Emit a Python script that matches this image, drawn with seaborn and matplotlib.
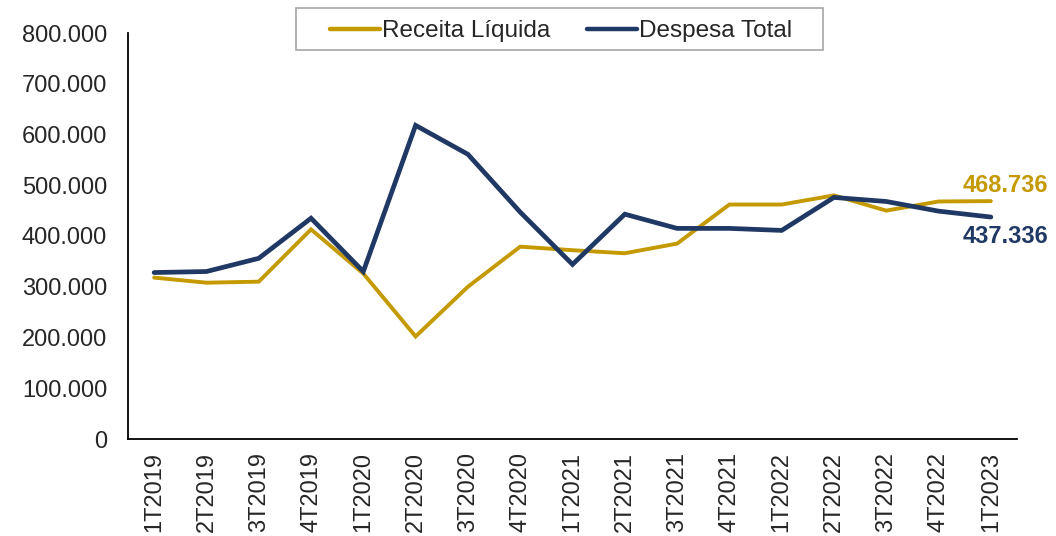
import pandas as pd
import matplotlib
matplotlib.use("Agg")
import matplotlib.pyplot as plt
import matplotlib.patches as mpatches
import seaborn as sns

# Dados trimestrais (valores em R$ mil)
trimestres = ["1T2019", "2T2019", "3T2019", "4T2019",
              "1T2020", "2T2020", "3T2020", "4T2020",
              "1T2021", "2T2021", "3T2021", "4T2021",
              "1T2022", "2T2022", "3T2022", "4T2022",
              "1T2023"]
receita_liquida = [318000, 308000, 310000, 413000,
                   326000, 202000, 300000, 379000,
                   372000, 366000, 385000, 462000,
                   462000, 480000, 450000, 468000,
                   468736]
despesa_total = [328000, 330000, 356000, 435000,
                 330000, 618000, 561000, 447000,
                 344000, 443000, 415000, 415000,
                 411000, 476000, 468000, 449000,
                 437336]
series = ["Receita Líquida", "Despesa Total"]
cores = {"Receita Líquida": "#C49A00", "Despesa Total": "#1F3864"}

df = pd.DataFrame({
    "Trimestre": trimestres * 2,
    "Valor": receita_liquida + despesa_total,
    "Série": [series[0]] * len(trimestres) + [series[1]] * len(trimestres),
})
df["pos"] = list(range(len(trimestres))) * 2


def fmt_br(v, pos=None):
    return f"{v:,.0f}".replace(",", ".")


sns.set_style("white")
plt.rcParams["font.family"] = ["Liberation Sans", "DejaVu Sans"]

W, H = 1056, 536
fig = plt.figure(figsize=(W / 100, H / 100), dpi=100)
ax = fig.add_axes([128 / W, 1 - 439 / H, (1017 - 128) / W, (439 - 33) / H])

sns.lineplot(data=df, x="pos", y="Valor", hue="Série", palette=cores,
             linewidth=3.2, ax=ax, sort=False)
for line, lw in zip(ax.get_lines(), [2.8, 3.4]):
    line.set_linewidth(lw)
    line.set_solid_capstyle("round")
    line.set_solid_joinstyle("miter")

ax.set_xlim(-0.5, len(trimestres) - 0.5)
ax.set_ylim(0, 800000)
ax.set_yticks(range(0, 800001, 100000))
ax.yaxis.set_major_formatter(plt.FuncFormatter(fmt_br))
ax.set_xticks(range(len(trimestres)))
ax.set_xticklabels(trimestres, rotation=90)
ax.tick_params(axis="both", labelsize=17, colors="#000000", labelcolor="#262626",
               length=0, pad=9)
ax.tick_params(axis="y", pad=15)
ax.set_xlabel("")
ax.set_ylabel("")

for side in ["top", "right"]:
    ax.spines[side].set_visible(False)
for side in ["left", "bottom"]:
    ax.spines[side].set_color("#000000")
    ax.spines[side].set_linewidth(1.3)

# Rótulos do último valor
ax.annotate(fmt_br(receita_liquida[-1]), (len(trimestres) - 1, receita_liquida[-1]),
            xytext=(-20, 11.5), textcoords="offset points", ha="left", va="center",
            fontsize=17, fontweight="bold", color=cores["Receita Líquida"],
            annotation_clip=False)
ax.annotate(fmt_br(despesa_total[-1]), (len(trimestres) - 1, despesa_total[-1]),
            xytext=(-20, -14), textcoords="offset points", ha="left", va="center",
            fontsize=17, fontweight="bold", color=cores["Despesa Total"],
            annotation_clip=False)

# Legenda no topo, com moldura cinza
leg = ax.legend(loc="center left", bbox_to_anchor=(330 / W, 1 - 31 / H),
                bbox_transform=fig.transFigure, ncol=2, fontsize=17.5,
                frameon=False, handlelength=2.05, handletextpad=0.1,
                columnspacing=1.5, borderpad=0, borderaxespad=0)
for t in leg.get_texts():
    t.set_color("#262626")
for h in leg.get_lines():
    h.set_linewidth(3.2)
fig.patches.append(mpatches.Rectangle((296 / W, 1 - 50 / H), (823 - 296) / W, 42 / H,
                                      transform=fig.transFigure, fill=False,
                                      edgecolor="#A6A6A6", linewidth=1.2))

fig.savefig("out.png", dpi=100)
